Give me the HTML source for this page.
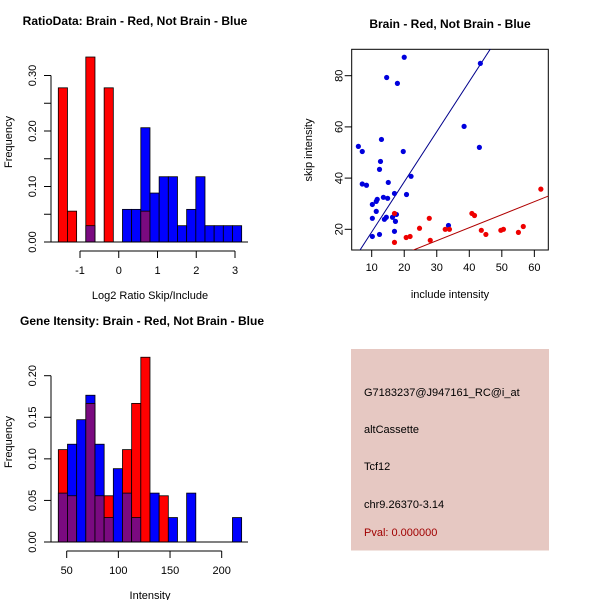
<!DOCTYPE html>
<html><head><meta charset="utf-8">
<style>
html,body{margin:0;padding:0;background:#fff;}
svg{display:block;font-family:"Liberation Sans",Arial,sans-serif;}
</style></head>
<body>
<svg id="chart" width="600" height="600" viewBox="0 0 600 600" xmlns="http://www.w3.org/2000/svg">
<rect x="0" y="0" width="600" height="600" fill="#fff"/>
<g id="p1"></g>
<g id="p2"></g>
<g id="p3"></g>
<g id="p4">
  <rect x="351" y="349" width="198" height="201.5" fill="#e6c8c2"/>
  <text x="364" y="396" font-size="11" fill="#000">G7183237@J947161_RC@i_at</text>
  <text x="364" y="433" font-size="11" fill="#000">altCassette</text>
  <text x="364" y="470" font-size="11" fill="#000">Tcf12</text>
  <text x="364" y="508" font-size="11" fill="#000">chr9.26370-3.14</text>
  <text x="364" y="536" font-size="11" fill="#a00000">Pval: 0.000000</text>
</g>
</svg>
<script>
// ---- Panel 1 data: ratio histogram ----
const ratioBreakStart = -1.56;
const ratioBinWidth = 0.2366;
const ratioRed = [0.2778,0.0556,0,0.3333,0,0.2778,0,0,0,0.0556,0,0,0,0,0,0,0,0,0,0];
const ratioBlue = [0,0,0,0.0294,0,0,0,0.0588,0.0588,0.2059,0.0882,0.1176,0.1176,0.0294,0.0588,0.1176,0.0294,0.0294,0.0294,0.0294];
const ratioYTicks = [0,0.05,0.10,0.15,0.20,0.25,0.30];
const ratioYLabels = ["0.00","","0.10","","0.20","","0.30"];
const ratioXTicks = [-1,0,1,2,3];
// ---- Panel 2 data: scatter ----
const blueX = [20.0,43.4,14.6,17.9,38.4,5.9,7.1,13.0,19.7,43.1,12.7,12.4,22.1,7.1,8.4,15.1,17.0,20.7,13.6,14.9,11.7,11.4,10.2,11.4,17.6,10.2,13.9,14.5,16.4,17.3,17.0,12.4,10.2,33.6];
const blueY = [87.2,84.8,79.3,77.0,60.2,52.4,50.4,55.1,50.4,52.0,46.5,43.4,40.7,37.7,37.2,38.3,34.0,33.6,32.5,32.1,31.7,30.9,29.7,27.0,25.8,24.3,23.9,24.7,24.7,23.1,19.2,18.0,17.2,21.5];
const redX = [62.0,40.8,41.6,27.7,17.0,24.7,32.6,33.9,43.7,45.1,49.7,50.5,56.6,55.1,20.6,21.8,28.0,17.0];
const redY = [35.7,26.2,25.4,24.3,26.2,20.4,20.0,20.0,19.6,18.0,19.6,20.0,21.1,18.8,16.8,17.2,15.7,14.9];
const blueFit = [-0.66,1.96];
const redFit = [0.32,0.508];
const scatXTicks = [10,20,30,40,50,60];
const scatYTicks = [20,40,60,80];
// ---- Panel 3 data: intensity histogram ----
const intBreakStart = 41.9;
const intBinWidth = 8.87;
const intRed = [0.1111,0.0556,0,0.1667,0.0556,0.0556,0,0.1111,0.1667,0.2222,0,0.0556,0,0,0,0,0,0,0,0];
const intBlue = [0.0588,0.1176,0.1471,0.1765,0.1176,0.0294,0.0882,0.0588,0.0294,0,0.0588,0,0.0294,0,0.0588,0,0,0,0,0.0294];
const intYTicks = [0,0.05,0.10,0.15,0.20];
const intYLabels = ["0.00","0.05","0.10","0.15","0.20"];
const intXTicks = [50,100,150,200];

const NS="http://www.w3.org/2000/svg";
function mk(parent,tag,attrs,text){const e=document.createElementNS(NS,tag);for(const k in attrs)e.setAttribute(k,attrs[k]);if(text!==undefined)e.textContent=text;parent.appendChild(e);return e;}

function hist(g,cfg){
  const sx=v=>cfg.x0+(v-cfg.xv0)*cfg.xs;
  const sy=v=>cfg.y0-v*cfg.ys;
  for(let i=0;i<cfg.red.length;i++){
    const a=cfg.start+i*cfg.w, b=a+cfg.w;
    const x1=sx(a), x2=sx(b);
    const r=cfg.red[i], bl=cfg.blue[i];
    const hi=Math.max(r,bl), lo=Math.min(r,bl);
    if(hi>0){
      const el=mk(g,'rect',{x:x1,y:sy(hi),width:x2-x1,height:sy(0)-sy(hi),fill:r>=bl?'#ff0000':'#0000ff',stroke:'#000','stroke-width':0.8});
      
      
    }
    if(lo>0){
      const el=mk(g,'rect',{x:x1,y:sy(lo),width:x2-x1,height:sy(0)-sy(lo),fill:'#7a0a80',stroke:'#000','stroke-width':0.8});
      
      
    }
  }
  const base=mk(g,'line',{x1:51,x2:248,y1:cfg.y0,y2:cfg.y0,stroke:'#000','stroke-width':1});
  
  
  // y axis
  const ya=mk(g,'g',{});
  
  
  mk(ya,'line',{x1:51,x2:51,y1:sy(cfg.yt[0]),y2:sy(cfg.yt[cfg.yt.length-1]),stroke:'#000'});
  cfg.yt.forEach((t,i)=>{
    const y=sy(t);
    mk(ya,'line',{x1:44,x2:51,y1:y,y2:y,stroke:'#000'});
    if(cfg.yl[i]){
      const tx=mk(ya,'text',{x:0,y:0,transform:`translate(36,${y}) rotate(-90)`,'text-anchor':'middle','font-size':11},cfg.yl[i]);
      
      
    }
  });
  // x axis
  const xa=mk(g,'g',{});
  
  
  const ay=cfg.y0+9;
  mk(xa,'line',{x1:sx(cfg.xt[0]),x2:sx(cfg.xt[cfg.xt.length-1]),y1:ay,y2:ay,stroke:'#000'});
  cfg.xt.forEach(t=>{
    mk(xa,'line',{x1:sx(t),x2:sx(t),y1:ay,y2:ay+7,stroke:'#000'});
    const tx=mk(xa,'text',{x:sx(t),y:ay+23,'text-anchor':'middle','font-size':11},String(t));
    
    
  });
  const tt=mk(g,'text',{x:cfg.tx,y:cfg.y0-217,'text-anchor':'middle','font-size':12,'font-weight':'bold'},cfg.title);
  
  
  const xl=mk(g,'text',{x:150,y:cfg.y0+57,'text-anchor':'middle','font-size':11},cfg.xlab);
  
  
  const yl=mk(g,'text',{x:0,y:0,transform:`translate(12,${cfg.y0-100}) rotate(-90)`,'text-anchor':'middle','font-size':11},'Frequency');
  
  
}

hist(document.getElementById('p1'),{x0:118.75,xv0:0,xs:38.75,y0:242,ys:555,start:ratioBreakStart,w:ratioBinWidth,red:ratioRed,blue:ratioBlue,yt:ratioYTicks,yl:ratioYLabels,xt:ratioXTicks,title:'RatioData: Brain - Red, Not Brain - Blue',tx:135,xlab:'Log2 Ratio Skip/Include'});
hist(document.getElementById('p3'),{x0:66.7,xv0:50,xs:1.0333,y0:542,ys:831.5,start:intBreakStart,w:intBinWidth,red:intRed,blue:intBlue,yt:intYTicks,yl:intYLabels,xt:intXTicks,title:'Gene Itensity: Brain - Red, Not Brain - Blue',tx:142,xlab:'Intensity'});

// Scatter
(function(){
  const g=document.getElementById('p2');
  const L=351.7,R=548.3,T=49.3,B=250;
  const sx=v=>371.7+(v-10)*3.253;
  const sy=v=>229.3-(v-20)*2.56;
  mk(g,'defs',{}).innerHTML='<clipPath id="clipS"><rect x="'+L+'" y="'+T+'" width="'+(R-L)+'" height="'+(B-T)+'"/></clipPath>';
  const box=mk(g,'rect',{x:L,y:T,width:R-L,height:B-T,fill:'none',stroke:'#000'});
  
  
  const xa=mk(g,'g',{});
  
  
  scatXTicks.forEach(t=>{
    mk(xa,'line',{x1:sx(t),x2:sx(t),y1:B,y2:B+7,stroke:'#000'});
    const tx=mk(xa,'text',{x:sx(t),y:B+21,'text-anchor':'middle','font-size':11},String(t));
    
    
  });
  const ya=mk(g,'g',{});
  
  
  scatYTicks.forEach(t=>{
    mk(ya,'line',{x1:L-7,x2:L,y1:sy(t),y2:sy(t),stroke:'#000'});
    const tx=mk(ya,'text',{x:0,y:0,transform:`translate(${L-9},${sy(t)}) rotate(-90)`,'text-anchor':'middle','font-size':11},String(t));
    
    
  });
  const cg=mk(g,'g',{'clip-path':'url(#clipS)'});
  const x1v=0,x2v=80;
  const bl=mk(cg,'line',{x1:sx(x1v),y1:sy(blueFit[0]+blueFit[1]*x1v),x2:sx(x2v),y2:sy(blueFit[0]+blueFit[1]*x2v),stroke:'#00008b','stroke-width':1});
  
  
  const rl=mk(cg,'line',{x1:sx(x1v),y1:sy(redFit[0]+redFit[1]*x1v),x2:sx(x2v),y2:sy(redFit[0]+redFit[1]*x2v),stroke:'#b00000','stroke-width':1});
  
  
  blueX.forEach((v,i)=>{
    const c=mk(cg,'circle',{cx:sx(v),cy:sy(blueY[i]),r:2.6,fill:'#0000dd'});
    
    
  });
  redX.forEach((v,i)=>{
    const c=mk(cg,'circle',{cx:sx(v),cy:sy(redY[i]),r:2.6,fill:'#ee0000'});
    
    
  });
  const tt=mk(g,'text',{x:450,y:28,'text-anchor':'middle','font-size':12,'font-weight':'bold'},'Brain - Red, Not Brain - Blue');
  
  
  const xl=mk(g,'text',{x:450,y:298,'text-anchor':'middle','font-size':11},'include intensity');
  
  
  const yl=mk(g,'text',{x:0,y:0,transform:'translate(312,150) rotate(-90)','text-anchor':'middle','font-size':11},'skip intensity');
  
  
})();
</script>
</body></html>
